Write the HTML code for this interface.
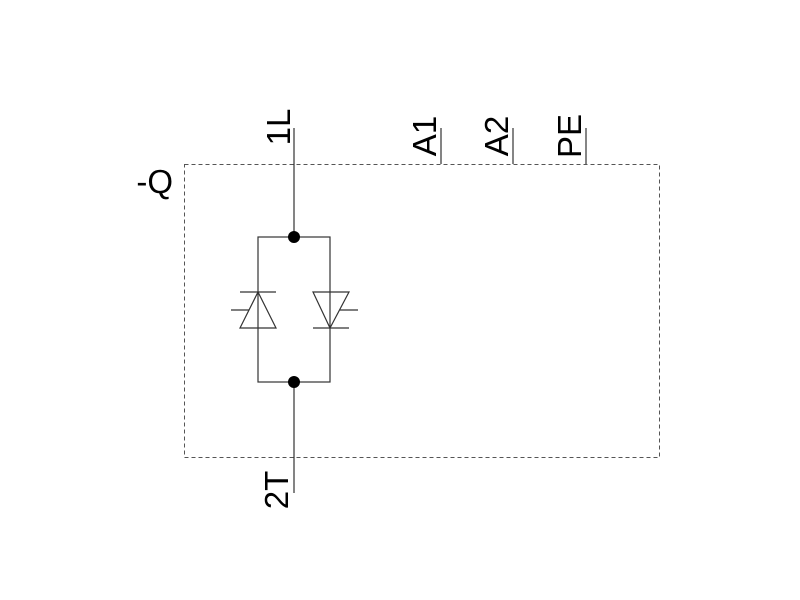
<!DOCTYPE html>
<html><head><style>
html,body{margin:0;padding:0;background:#fff;}
svg{display:block;}
text{font-family:"Liberation Sans",sans-serif;font-size:33px;fill:#000;}
</style></head><body>
<svg width="800" height="600" viewBox="0 0 800 600" xmlns="http://www.w3.org/2000/svg">
<rect x="184.5" y="164.5" width="475" height="293" fill="none" stroke="#555" stroke-width="1" stroke-dasharray="4,3"/>
<g stroke="#333" stroke-width="1.2" fill="none">
<line x1="294" y1="128" x2="294" y2="237"/>
<line x1="294" y1="382" x2="294" y2="493"/>
<line x1="441" y1="128" x2="441" y2="164"/>
<line x1="513" y1="128" x2="513" y2="164"/>
<line x1="586" y1="128" x2="586" y2="164"/>
<rect x="258" y="237" width="72" height="145"/>
<polygon points="258,292 240,328 276,328"/>
<line x1="240" y1="292" x2="276" y2="292"/>
<line x1="231" y1="310" x2="249" y2="310"/>
<polygon points="313,292 349,292 330,328"/>
<line x1="313" y1="328" x2="349" y2="328"/>
<line x1="340" y1="310" x2="358" y2="310"/>
</g>
<circle cx="294" cy="237" r="6" fill="#000"/>
<circle cx="294" cy="382" r="6" fill="#000"/>
<text x="173" y="193" text-anchor="end">-Q</text>
<text transform="translate(290,127) rotate(-90)" text-anchor="middle">1L</text>
<text transform="translate(436,136) rotate(-90)" text-anchor="middle">A1</text>
<text transform="translate(508,136) rotate(-90)" text-anchor="middle">A2</text>
<text transform="translate(581,136) rotate(-90)" text-anchor="middle">PE</text>
<text transform="translate(288,490) rotate(-90)" text-anchor="middle">2T</text>
</svg>
</body></html>
